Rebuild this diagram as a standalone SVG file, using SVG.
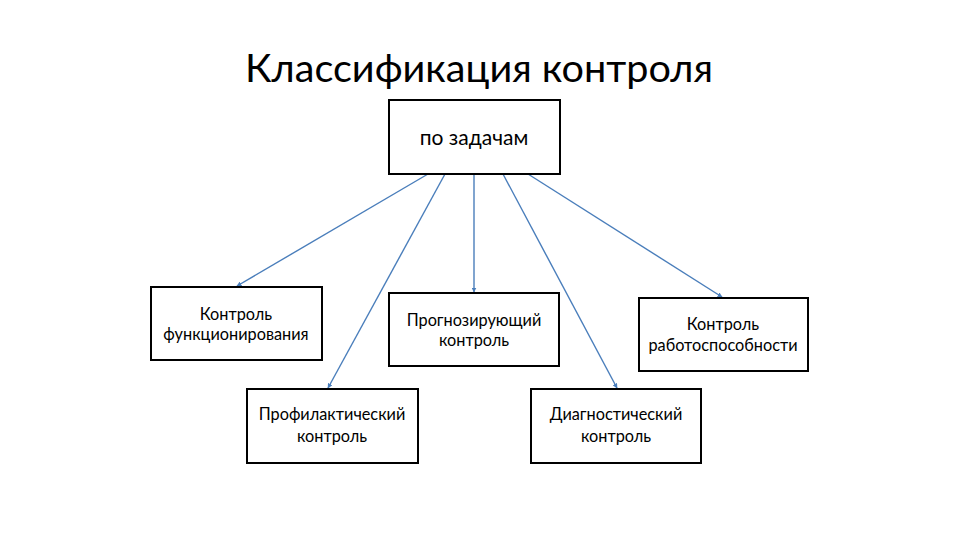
<svg xmlns="http://www.w3.org/2000/svg" width="960" height="540" viewBox="0 0 960 540">
<defs>
<style>
.box{fill:#fff;stroke:#000;stroke-width:2}
.t{font-family:Lato,"Open Sans","Liberation Sans",sans-serif;font-size:16.3px;fill:#000;text-anchor:middle}
.title{font-family:Lato,"Open Sans","Liberation Sans",sans-serif;font-size:39.6px;fill:#000;text-anchor:middle}
.c{stroke:#4a7ebb;stroke-width:1.4;fill:none;marker-end:url(#ah)}
</style>
<marker id="ah" viewBox="0 0 10 10" refX="9" refY="5" markerWidth="5" markerHeight="5" orient="auto" markerUnits="userSpaceOnUse">
<path d="M0,0 L10,5 L0,10 z" fill="#4a7ebb"/>
</marker>
</defs>
<rect width="960" height="540" fill="#fff"/>
<text class="title" x="479" y="82">Классификация контроля</text>
<g id="connectors">
<line class="c" x1="428" y1="174" x2="237" y2="286"/>
<line class="c" x1="445" y1="174" x2="328" y2="388"/>
<line class="c" x1="474" y1="174" x2="474" y2="292"/>
<line class="c" x1="503" y1="174" x2="617" y2="388"/>
<line class="c" x1="528" y1="174" x2="722" y2="297"/>
</g>
<g id="n_root">
<rect class="box" x="389" y="100" width="171" height="74"/>
<text class="t" x="474" y="145" style="font-size:21px">по задачам</text>
</g>
<g id="n_func">
<rect class="box" x="151" y="287" width="171" height="73"/>
<text class="t" x="236" y="320">Контроль</text>
<text class="t" x="236" y="340">функционирования</text>
</g>
<g id="n_prognoz">
<rect class="box" x="389" y="293" width="170" height="73"/>
<text class="t" x="474" y="326">Прогнозирующий</text>
<text class="t" x="474" y="346">контроль</text>
</g>
<g id="n_rabot">
<rect class="box" x="639" y="298" width="169" height="73"/>
<text class="t" x="723" y="330">Контроль</text>
<text class="t" x="723" y="351">работоспособности</text>
</g>
<g id="n_profil">
<rect class="box" x="247" y="389" width="171" height="74"/>
<text class="t" x="332" y="420">Профилактический</text>
<text class="t" x="332" y="442">контроль</text>
</g>
<g id="n_diag">
<rect class="box" x="531" y="389" width="170" height="74"/>
<text class="t" x="616" y="420">Диагностический</text>
<text class="t" x="616" y="442">контроль</text>
</g>
</svg>
